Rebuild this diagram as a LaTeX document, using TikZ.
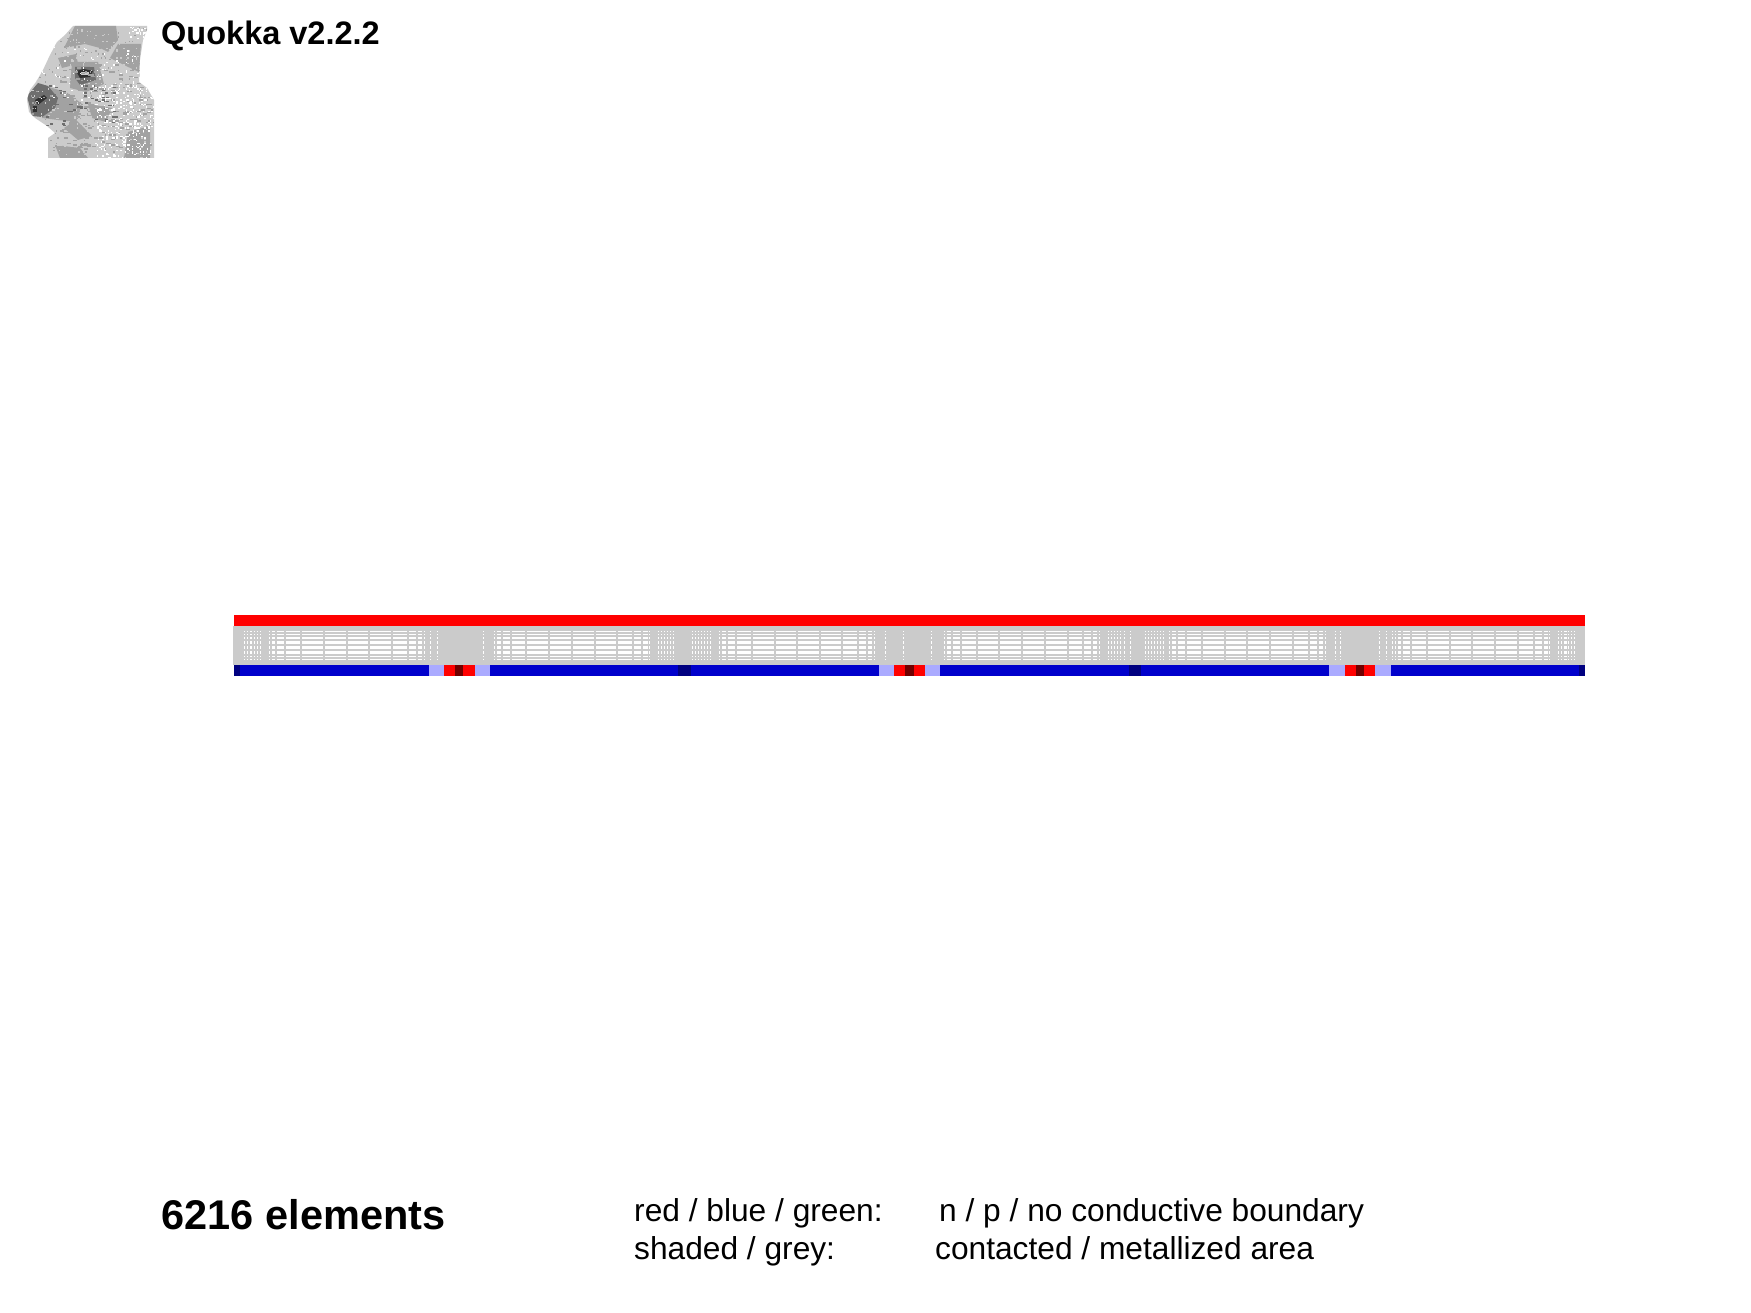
\documentclass[tikz,border=0pt]{standalone}
\usepackage{fontspec}
\setmainfont{Liberation Sans}
\definecolor{nred}{HTML}{FF0000}
\definecolor{pblue}{HTML}{0000CC}
\definecolor{dblue}{HTML}{000080}
\definecolor{dred}{HTML}{700000}
\definecolor{lav}{HTML}{AAAAFF}
\definecolor{metal}{HTML}{CBCBCB}
\definecolor{qmid}{HTML}{A2A2A2}
\definecolor{qdark}{HTML}{6E6E6E}
\definecolor{qblack}{HTML}{303030}
\tikzset{
  lbl/.style={anchor=base west,inner sep=0pt,font=\fontsize{31.7}{38}\selectfont},
  boldlbl/.style={anchor=base west,inner sep=0pt,font=\bfseries\fontsize{#1}{#1}\selectfont},
}
\newcommand{\specks}[7]{% colour, count, x0, width, y0, height, speck width
  \foreach \i in {1,...,#2}{
    \pgfmathsetmacro\qx{round((#3+rnd*#4)/1.4)*1.4}
    \pgfmathsetmacro\qy{round((#5+rnd*#6)/1.4)*1.4}
    \fill[#1] (\qx,\qy) rectangle +(#7,1.4);
  }}
\begin{document}
\begin{tikzpicture}[x=1pt,y=-1pt]
\useasboundingbox (0,0) rectangle (1751,1313);
\fill[white] (0,0) rectangle (1751,1313);
% --- quokka
\begin{scope}
\clip (73,26) -- (147,26) -- (147,30) -- (143,40) -- (140,60) -- (139,82) -- (147,88) -- (154,100) -- (154,158) -- (48,158) -- (48,138) -- (55,133) -- (47,126) -- (35,118) -- (29,112) -- (27,100) -- (30,90) -- (36,82) -- (43,70) -- (50,55) -- (57,42) -- (65,35) -- cycle;
\fill[metal] (20,20) rectangle (160,160);
\fill[qmid] (75,26) -- (116,26) -- (118,40) -- (108,52) -- (100,48) -- (85,44) -- (64,48) -- cycle;
\fill[qmid] (118,44) -- (141,44) -- (139,72) -- (126,66) -- (110,58) -- cycle;
\fill[qmid] (58,58) -- (76,54) -- (78,64) -- (62,68) -- cycle;
\fill[qmid] (72,62) -- (98,62) -- (104,84) -- (86,92) -- (70,88) -- cycle;
\fill[qmid] (45,86) -- (66,92) -- (82,104) -- (76,122) -- (58,120) -- (42,118) -- cycle;
\fill[qmid] (88,104) -- (112,108) -- (106,122) -- (92,118) -- cycle;
\fill[qmid] (64,128) -- (76,120) -- (92,136) -- (78,140) -- cycle;
\fill[qmid] (55,145) -- (80,148) -- (88,158) -- (60,158) -- cycle;
\fill[qmid] (128,132) -- (150,126) -- (150,158) -- (124,158) -- cycle;
\fill[qdark] (75,67) -- (94,67) -- (96,80) -- (80,85) -- (75,78) -- cycle;
\fill[qblack] (76,71) -- (84,69) -- (93,71) -- (90,77) -- (80,78) -- cycle;
\fill[metal] (81,72.5) rectangle (89,75.5);
\fill[qdark] (27,96) -- (38,83) -- (48,86) -- (58,98) -- (55,108) -- (42,117) -- (32,116) -- cycle;
\fill[qblack] (35,100) -- (44,95) -- (47,98) -- (38,105) -- cycle;
\fill[qblack] (33,106) rectangle (37,112);
\pgfmathsetseed{4217}
\specks{metal}{500}{27}{128}{26}{132}{1.4}
\specks{qmid}{280}{27}{128}{26}{132}{1.4}
\specks{qmid}{170}{55}{95}{60}{90}{4}
\specks{qdark}{60}{45}{70}{85}{40}{3}
\specks{white}{90}{40}{100}{45}{60}{1.4}
\specks{white}{350}{95}{60}{85}{73}{1.4}
\specks{white}{40}{128}{26}{26}{12}{1.4}
\end{scope}
% --- device
\fill[nred] (234,615) rectangle (1585,626);
\fill[metal] (233,626) rectangle (1585,665);
\foreach \a/\b in {
 244/245,247/248.4,249.7/252,254/255,257/258,260/261,
 268.7/269.7,271.7/275,276.7/284,286/300,302/323,324.7/346,347.7/368,369.7/391,392.7/407,408.7/416,417.7/422.3,424/425,
 430/430.8,437/437.8,482.7/483.7,
 494.3/495.3,496.7/501.3,503/510,511.7/525,526.7/547.7,549.7/570.7,572.7/593.7,595.7/616.3,617.7/632,634/641.3,643/647.7,649/650,
 658/659,661/662,664/665,667/668,670/671,673/674,
 692/693,695/696,698/699,701/702,704/705,707/708,710/711,
 719/720,722/726,728/735,737/751,753/773.7,775.7/796,797.7/818.7,820.7/841.3,843/857.3,859.3/866.3,867.7/872,873.7/874.7,
 885/886,903/903.8,931/931.8,
 944/945,946.7/950.7,952.7/960,961.7/975.7,978/998.3,1000/1021.3,1023.3/1044,1046/1066.7,1068.7/1082,1083.7/1091,1092.7/1097.3,1098.7/1099.7,
 1108/1109,1111/1112,1114/1115,1117/1118,1120/1121,1124/1125,1130/1131,
 1145/1146,1148/1149,1151/1152,1154/1155,1157/1158,1160/1161,1163/1164,
 1169/1170,1172/1176,1178/1185,1187/1201,1203/1224,1226/1246,1248/1269,1271/1292,1294/1308,1309.7/1317.3,1319/1323.3,1324.7/1325.7,
 1335/1336,1340/1341,1379/1380,1386/1387,
 1392/1393,1395/1396,1398/1401,1403/1410,1412/1426,1428/1449,1451/1471,1473/1494,1496/1517,1519/1533,1535/1542,1544/1548,1549/1550,
 1558/1559,1561/1562,1564/1566.7,1568/1569,1571/1572,1574/1575}{
  \fill[white] (\a,631) rectangle (\b,660);
}
\foreach \a/\b in {632/633.5,635/637,638.7/640.7,643.7/645.7,648.7/650.7,653.7/655.7,656.7/658.7}{
  \fill[metal] (233,\a) rectangle (1585,\b);
}
\fill[pblue] (234,665) rectangle (1585,676);
\fill[dblue] (234,665) rectangle (240,676);
\fill[dblue] (678,665) rectangle (691,676);
\fill[dblue] (1129,665) rectangle (1141,676);
\fill[dblue] (1579,665) rectangle (1585,676);
\foreach \la/\ra/\da/\db/\rd/\lb in {429/444/455/463/475/490,879/894/905/914/925/940,1329/1345/1356/1364/1375/1391}{
  \fill[lav] (\la,665) rectangle (\lb,676);
  \fill[nred] (\ra,665) rectangle (\rd,676);
  \fill[dred] (\da,665) rectangle (\db,676);
}
% --- text
\node[boldlbl=32.5] (title) at (161,45) {Quokka v2.2.2};
\node[boldlbl=41.5] (count) at (161.5,1229) {6216 elements};
\node[lbl] (keya) at (634,1221) {red / blue / green:};
\node[lbl] (vala) at (939,1221) {n / p / no conductive boundary};
\node[lbl] (keyb) at (634,1259) {shaded / grey:};
\node[lbl] (valb) at (935,1259) {contacted / metallized area};
\end{tikzpicture}
\end{document}
